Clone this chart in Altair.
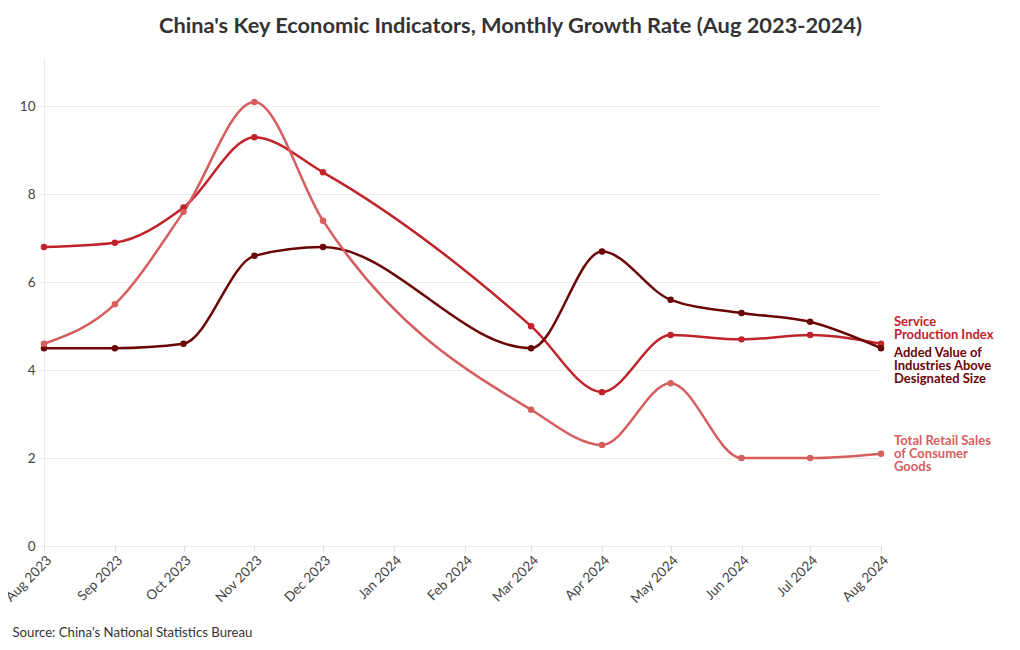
import altair as alt
import pandas as pd
import json

months = ["2023-08-01", "2023-09-01", "2023-10-01", "2023-11-01", "2023-12-01",
          "2024-03-01", "2024-04-01", "2024-05-01", "2024-06-01", "2024-07-01", "2024-08-01"]
service = [6.8, 6.9, 7.7, 9.3, 8.5, 5.0, 3.5, 4.8, 4.7, 4.8, 4.6]
industry = [4.5, 4.5, 4.6, 6.6, 6.8, 4.5, 6.7, 5.6, 5.3, 5.1, 4.5]
retail = [4.6, 5.5, 7.6, 10.1, 7.4, 3.1, 2.3, 3.7, 2.0, 2.0, 2.1]

series_names = ["Service Production Index",
                "Added Value of Industries Above Designated Size",
                "Total Retail Sales of Consumer Goods"]
label_texts = ["Service\nProduction Index",
               "Added Value of\nIndustries Above\nDesignated Size",
               "Total Retail Sales\nof Consumer\nGoods"]
colors = ["#c0232a", "#6b0606", "#d65e5e"]
label_dy = [-18, 9, -9]

rows = []
for name, vals in zip(series_names, [service, industry, retail]):
    for i, (m, v) in enumerate(zip(months, vals)):
        rows.append({"date": m, "series": name, "value": v,
                     "last": i == len(months) - 1})
df = pd.DataFrame(rows)

FONT = "Lato"
W, H = 837, 488

x_enc = alt.X(
    "date:T",
    scale=alt.Scale(type="utc",
                    domain=[alt.DateTime(year=2023, month=8, date=1, utc=True),
                            alt.DateTime(year=2024, month=8, date=1, utc=True)]),
    axis=alt.Axis(format="%b %Y",
                  tickCount={"interval": "month", "step": 1},
                  labelAngle=-45, labelAlign="right", labelBaseline="top",
                  labelFontSize=13.5, labelColor="#444", labelPadding=2,
                  grid=False, domain=False, ticks=True, tickColor="#dddddd", tickSize=5,
                  title="Source: China's National Statistics Bureau",
                  titleX=-32, titleY=86, titleAlign="left", titleAnchor="start",
                  titleBaseline="middle", titleFontSize=13.2, titleFontWeight="normal",
                  titleColor="#333", titleFont=FONT),
)
y_enc = alt.Y(
    "value:Q",
    scale=alt.Scale(domain=[0, 11.1], nice=False),
    axis=alt.Axis(values=[0, 2, 4, 6, 8, 10], title=None, labelFontSize=13.5,
                  labelColor="#444", gridColor="#ebebeb", domainColor="#ebebeb",
                  tickColor="#ebebeb", tickSize=4, labelPadding=5),
)
color_enc = alt.Color("series:N", scale=alt.Scale(domain=series_names, range=colors), legend=None)

base = alt.Chart(df)
lines = base.mark_line(interpolate="monotone", strokeWidth=2.5).encode(x=x_enc, y=y_enc, color=color_enc)
points = base.mark_circle(size=42, opacity=1).encode(x="date:T", y="value:Q", color=color_enc)

layers = [lines, points]
for name, txt, col, dy in zip(series_names, label_texts, colors, label_dy):
    lab = base.transform_filter(
        (alt.datum.series == name) & alt.datum["last"]
    ).transform_calculate(lab=json.dumps(txt)).mark_text(
        align="left", baseline="alphabetic", dx=13, dy=dy, lineBreak="\n",
        fontSize=13, fontWeight="bold", color=col, font=FONT, lineHeight=13
    ).encode(x="date:T", y="value:Q", text="lab:N")
    layers.append(lab)

chart = alt.layer(*layers).properties(
    width=W, height=H,
    autosize=alt.AutoSizeParams(type="none"),
    padding={"left": 36, "top": 50, "right": 131, "bottom": 96},
    title=alt.TitleParams("China's Key Economic Indicators, Monthly Growth Rate (Aug 2023-2024)",
                          fontSize=21.8, fontWeight="bold", color="#333", font=FONT,
                          anchor="middle", dx=48, offset=20),
).configure(font=FONT).configure_view(stroke=None)

chart.save("out.html", embed_options={"renderer": "svg", "actions": False})
